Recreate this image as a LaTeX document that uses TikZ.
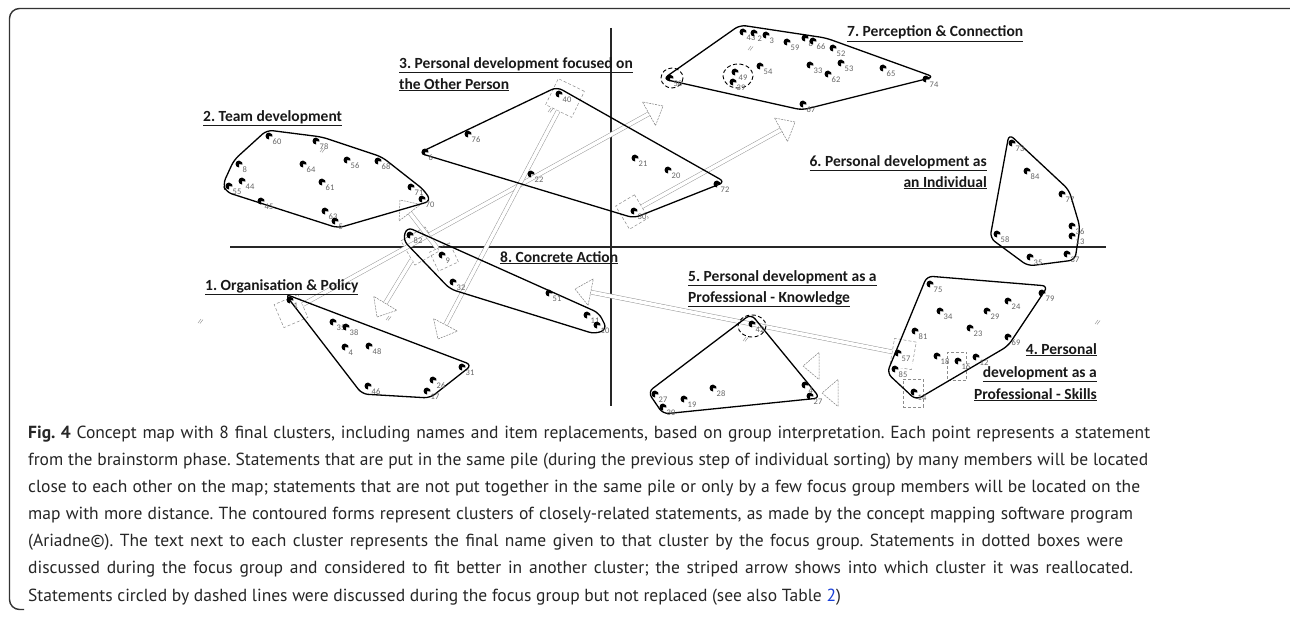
\documentclass[tikz,border=0pt]{standalone}
\usepackage{fontspec}
\setmainfont{Carlito}
\newfontfamily\capfont{PT Sans}
\usetikzlibrary{calc}
\definecolor{linkblue}{rgb}{0.1,0.25,0.85}
\frenchspacing
\newcommand\stm[4]{% name, x, y, label
  \fill (#2,#3) -- +(90:3.5) arc[start angle=90,end angle=370,radius=3.5] -- cycle;
  \node[num] (#1) at (#2+3.5,#3+5.5) {#4};}
\newcommand\sarrow[2]{% box node, tip coordinate
  \coordinate (#2base) at ($(#2)!16pt!(#1)$);
  \draw[shaft] (#1) -- (#2base);
  \draw[headst] (#2) -- ($(#2base)!13.5pt!90:(#2)$) -- ($(#2base)!13.5pt!-90:(#2)$) -- cycle;}
\newcommand\hatch[2]{\draw[black!45,line width=0.4pt] (#1-2,#2+2) -- (#1+1,#2-2) (#1,#2+2.5) -- (#1+3,#2-1.5);}
\begin{document}
\begin{tikzpicture}[x=1pt,y=-1pt,
  clu/.style={draw=black, line width=1.3pt, rounded corners=6pt},
  ax/.style={draw=black!85, line width=1.3pt},
  title/.style={font=\fontsize{15.5}{18}\selectfont\bfseries, inner sep=0pt, text=black!90},
  num/.style={font=\fontsize{8.5}{9}\selectfont, text=black!60, inner sep=0pt, anchor=west},
  dbox/.style={draw=black!45, densely dashed, line width=0.5pt, inner sep=0pt},
  shaft/.style={draw=black!40, line width=0.5pt, double=white, double distance=3.5pt},
  headst/.style={draw=black!50, line width=0.5pt, dash pattern=on 2pt off 1pt, fill=white},
  ring/.style={draw=black, line width=0.9pt, dash pattern=on 4pt off 2.5pt},
  capl/.style={anchor=base west, inner sep=0pt, font=\capfont\fontsize{17.5}{20}\selectfont, text=black!85}
]
\useasboundingbox (0,0) rectangle (1290,618);
\fill[white] (0,0) rectangle (1290,618);
% frame
\draw[line width=1.4pt, black!80, rounded corners=10pt] (1295,8.5) -- (9.5,8.5) -- (9.5,609.5) -- (24,609.5);
% axes
\draw[ax] (230,247) -- (1106,247);
\draw[ax] (611,28) -- (611,406);

% dotted boxes of reallocated statements
\node[dbox, minimum width=29pt, minimum height=29pt, rotate=-26] (b40) at (565,98) {};
\node[dbox, minimum width=22pt, minimum height=27pt, rotate=31] (b30) at (632,212) {};
\node[dbox, minimum width=26pt, minimum height=25pt, rotate=23] (b1) at (291,311) {};
\node[dbox, minimum width=28pt, minimum height=28pt, rotate=30] (b82) at (420,246) {};
\node[dbox, minimum width=22pt, minimum height=21pt, rotate=25] (b9) at (444,257) {};
\node[dbox, minimum width=22pt, minimum height=28pt, rotate=-10] (b57) at (903,354) {};
\node[dbox, minimum width=19pt, minimum height=28pt] (b15) at (957,366) {};
\node[dbox, minimum width=20pt, minimum height=28pt] (b14) at (913,393) {};

% arrow tips
\coordinate (h1) at (663,106);
\coordinate (h30) at (795,122);
\coordinate (h40) at (438,339);
\coordinate (h82) at (377,317);
\coordinate (h9) at (400,200);
\coordinate (h57) at (575,289);
\coordinate (h15) at (803,366);
\coordinate (h14) at (822,393);

\sarrow{b1}{h1}
\sarrow{b30}{h30}
\sarrow{b40}{h40}
\sarrow{b82}{h82}
\sarrow{b9}{h9}
\sarrow{b57}{h57}
\sarrow{b15}{h15}
\sarrow{b14}{h14}

% small hatch marks
\hatch{322}{150}
\hatch{200}{321}
\hatch{1097}{322}
\hatch{745}{339}
\hatch{750}{48}
\hatch{550}{110}
\hatch{388}{318}

% cluster outlines
\draw[clu] (267,130) -- (322,137) -- (382,157) -- (424,190) -- (431,201) -- (338,228) -- (226,192) -- (223,184) -- (234,160) -- cycle;
\draw[clu] (557,87) -- (725,182) -- (634,218) -- (419,153) -- cycle;
\draw[clu] (740,25) -- (826,38) -- (934,77) -- (802,110) -- (663,79) -- cycle;
\draw[clu] (1009,134) -- (1069,190) -- (1080,227) -- (1075,260) -- (1028,266) -- (990,238) -- cycle;
\draw[clu] (285,294) -- (472,365) -- (430,398) -- (362,394) -- cycle;
\draw[clu] (407,227) -- (599,313) -- (607,329) -- (595,334) -- (450,289) -- (403,240) -- cycle;
\draw[clu] (751,314) -- (820,398) -- (663,414) -- (648,392) -- cycle;
\draw[clu] (927,276) -- (1048,286) -- (1008,346) -- (916,400) -- (887,373) -- cycle;

% dashed rings (discussed, not replaced)
\draw[ring] (672,78) ellipse [x radius=11, y radius=10];
\draw[ring] (738,76) ellipse [x radius=15, y radius=12];
\draw[ring] (752,326) ellipse [x radius=14, y radius=11];

% statements: cluster 2
\stm{p60}{269}{136}{60}
\stm{p78}{316}{141}{78}
\stm{p8}{239}{164}{8}
\stm{p64}{303}{164}{64}
\stm{p56}{347}{160}{56}
\stm{p68}{378}{161}{68}
\stm{p44}{242}{181}{44}
\stm{p55}{229}{186}{55}
\stm{p61}{322}{182}{61}
\stm{p71}{411}{187}{71}
\stm{p70}{422}{199}{70}
\stm{p45}{261}{201}{45}
\stm{p63}{325}{211}{63}
\stm{p5}{335}{221}{5}
% cluster 3
\stm{p40}{559}{94}{40}
\stm{p76}{468}{134}{76}
\stm{p6}{425}{152}{6}
\stm{p22}{531}{174}{22}
\stm{p21}{635}{158}{21}
\stm{p20}{668}{170}{20}
\stm{p72}{717}{184}{72}
\stm{p30}{634}{211}{30}
% cluster 7
\stm{p43}{743}{32}{43}
\stm{p2}{754}{33}{2}
\stm{p3}{766}{35}{3}
\stm{p59}{787}{42}{59}
\stm{p80}{805}{38}{8}
\stm{p66}{813}{41}{66}
\stm{p52}{833}{48}{52}
\stm{p54}{760}{66}{54}
\stm{p49}{735}{72}{49}
\stm{p39}{733}{82}{39}
\stm{p33}{810}{65}{33}
\stm{p53}{841}{63}{53}
\stm{p62}{828}{74}{62}
\stm{p65}{883}{68}{65}
\stm{p74}{926}{79}{74}
\stm{p67}{803}{104}{67}
\stm{p50}{670}{78}{50}
% cluster 6
\stm{p73}{1012}{143}{73}
\stm{p84}{1027}{171}{84}
\stm{p77}{1062}{194}{77}
\stm{p36}{1072}{226}{36}
\stm{p13}{1072}{236}{13}
\stm{p58}{997}{234}{58}
\stm{p35}{1030}{257}{35}
\stm{p37}{1067}{254}{37}
% cluster 1
\stm{p1}{290}{300}{1}
\stm{p35b}{333}{322}{35}
\stm{p38}{346}{327}{38}
\stm{p4}{345}{347}{4}
\stm{p48}{369}{346}{48}
\stm{p31}{462}{367}{31}
\stm{p26}{433}{380}{26}
\stm{p17}{427}{391}{17}
\stm{p46}{368}{386}{46}
% cluster 8
\stm{p82}{410}{235}{82}
\stm{p9}{442}{255}{9}
\stm{p32}{453}{282}{32}
\stm{p51}{549}{293}{51}
\stm{p11}{587}{315}{11}
\stm{p10}{597}{325}{10}
% cluster 5
\stm{p42}{752}{324}{42}
\stm{p28}{713}{388}{28}
\stm{p19}{684}{399}{19}
\stm{p27}{655}{394}{27}
\stm{p39b}{663}{407}{30}
\stm{p4b}{805}{385}{4}
\stm{p47}{810}{396}{27}
% cluster 4
\stm{p75}{930}{284}{75}
\stm{p79}{1042}{293}{79}
\stm{p24}{1008}{301}{24}
\stm{p34}{940}{311}{34}
\stm{p29}{987}{311}{29}
\stm{p81}{915}{331}{81}
\stm{p23}{970}{328}{23}
\stm{p69}{1008}{337}{69}
\stm{p57}{898}{353}{57}
\stm{p18}{937}{356}{18}
\stm{p15}{958}{361}{15}
\stm{p12}{976}{357}{12}
\stm{p85}{895}{369}{85}
\stm{p14}{914}{392}{14}

% cluster titles
\node[title, anchor=base west] (t2) at (203,121) {\underline{2. Team development}};
\node[title, anchor=base west] (t3a) at (399,68) {\underline{3. Personal development focused on}};
\node[title, anchor=base west] (t3b) at (399,89) {\underline{the Other Person}};
\node[title, anchor=base west] (t7) at (847,37) {\underline{7. Perception \& Connection}};
\node[title, anchor=base east] (t6a) at (987,166) {\underline{6. Personal development as}};
\node[title, anchor=base east] (t6b) at (987,187) {\underline{an Individual}};
\node[title, anchor=base west] (t1) at (205,290) {\underline{1. Organisation \& Policy}};
\node[title, anchor=base west] (t8) at (500,262) {\underline{8. Concrete Action}};
\node[title, anchor=base west] (t5a) at (688,281) {\underline{5. Personal development as a}};
\node[title, anchor=base west] (t5b) at (688,302) {\underline{Professional - Knowledge}};
\node[title, anchor=base east] (t4a) at (1097,354) {\underline{4. Personal}};
\node[title, anchor=base east] (t4b) at (1097,377) {\underline{development as a}};
\node[title, anchor=base east] (t4c) at (1097,399) {\underline{Professional - Skills}};

% caption
\node[capl] (c1) at (28,438) {\makebox[1122pt][s]{\textbf{Fig. 4} Concept map with 8 final clusters, including names and item replacements, based on group interpretation. Each point represents a statement}};
\node[capl] (c2) at (28,465.2) {\makebox[1120pt][s]{from the brainstorm phase. Statements that are put in the same pile (during the previous step of individual sorting) by many members will be located}};
\node[capl] (c3) at (28,492.3) {\makebox[1112pt][s]{close to each other on the map; statements that are not put together in the same pile or only by a few focus group members will be located on the}};
\node[capl] (c4) at (28,519.5) {\makebox[1105pt][s]{map with more distance. The contoured forms represent clusters of closely-related statements, as made by the concept mapping software program}};
\node[capl] (c5) at (28,546.7) {\makebox[1095pt][s]{(Ariadne©). The text next to each cluster represents the final name given to that cluster by the focus group. Statements in dotted boxes were}};
\node[capl] (c6) at (28,573.8) {\makebox[1105pt][s]{discussed during the focus group and considered to fit better in another cluster; the striped arrow shows into which cluster it was reallocated.}};
\node[capl] (c7) at (28,601) {Statements circled by dashed lines were discussed during the focus group but not replaced (see also Table \textcolor{linkblue}{2})};
\end{tikzpicture}
\end{document}
